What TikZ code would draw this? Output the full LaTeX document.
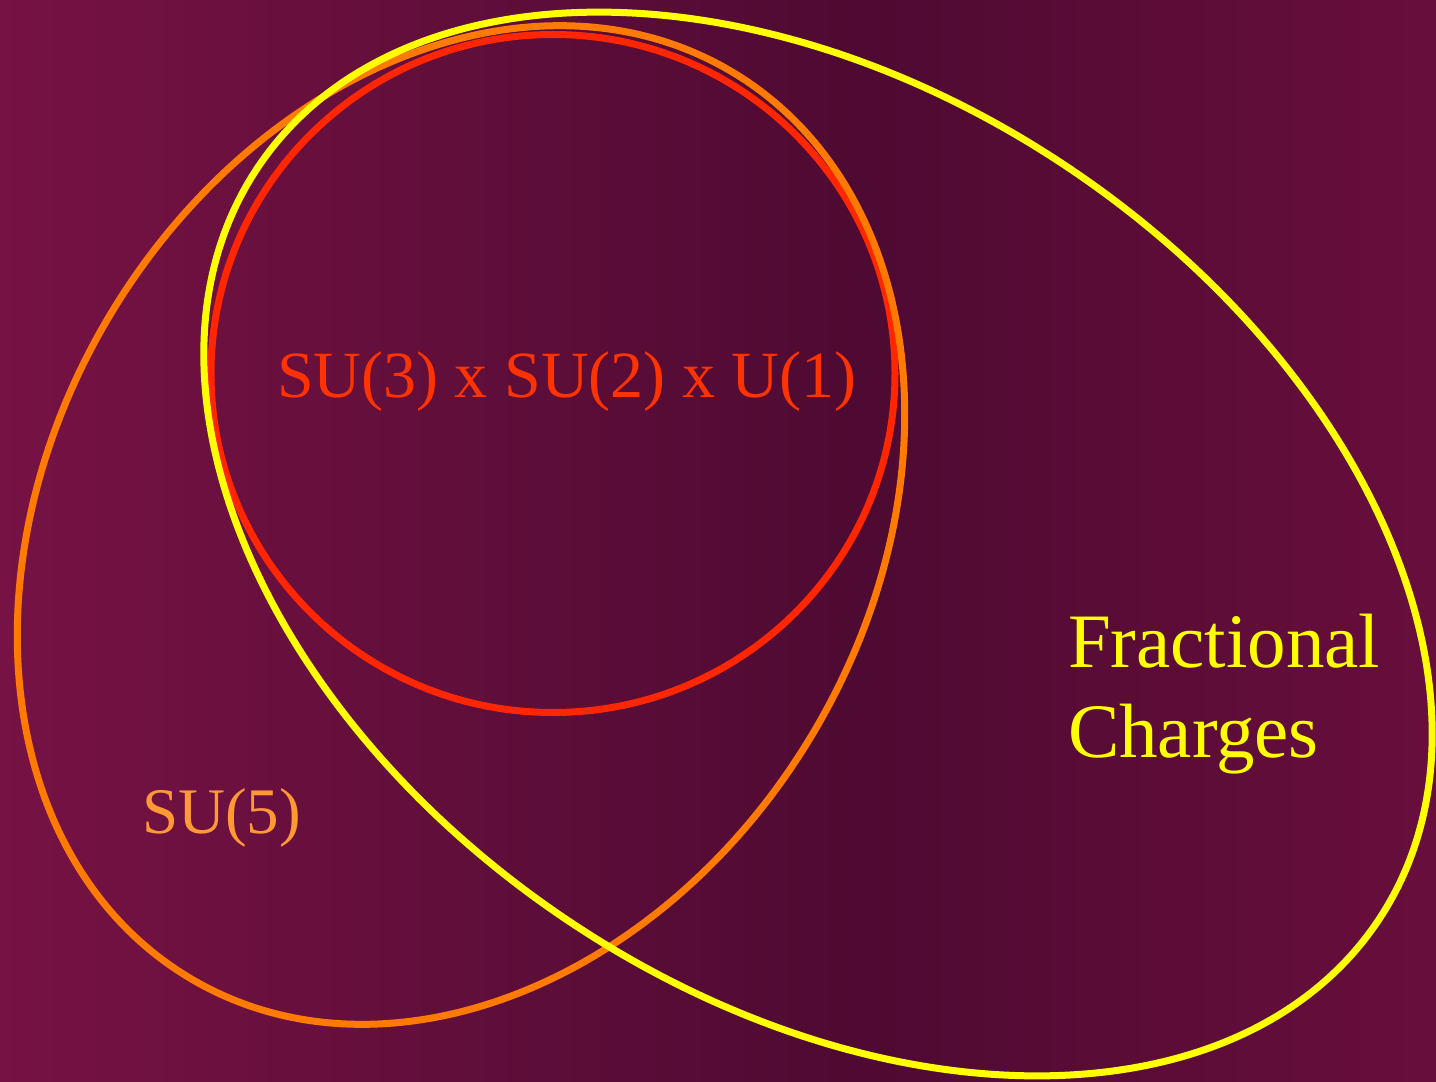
\documentclass[tikz,border=0pt]{standalone}
\usepackage{fontspec}
\setmainfont{Liberation Serif}
\definecolor{bgleft}{RGB}{118,18,68}
\definecolor{bgmid}{RGB}{78,10,50}
\definecolor{bgright}{RGB}{104,14,60}
\definecolor{redc}{RGB}{255,38,0}
\definecolor{orangec}{RGB}{255,122,0}
\definecolor{yellowc}{RGB}{255,255,0}
\definecolor{redtext}{RGB}{255,51,0}
\definecolor{su5text}{RGB}{255,153,51}
\pgfdeclarehorizontalshading{bgshade}{100bp}{color(0bp)=(bgleft); color(25bp)=(bgleft); color(55bp)=(bgmid); color(75bp)=(bgright); color(100bp)=(bgright)}
\tikzset{
  ring/.style={line width=7pt},
  lbl/.style={anchor=base west, inner sep=0pt, outer sep=0pt}
}
\begin{document}
\begin{tikzpicture}[x=1pt,y=-1pt]
\useasboundingbox (0,0) rectangle (1436,1082);
\shade[shading=bgshade] (0,0) rectangle (1436,1082);
% red circle
\draw[ring, redc] (553,373.5) ellipse [x radius=342, y radius=339];
% orange egg
\draw[ring, orangec, rotate around={59:(461,525)}] (461,525) ellipse [x radius=528, y radius=409];
% yellow egg
\draw[ring, yellowc, rotate around={-34:(818,544)}] (818,544) ellipse [x radius=675, y radius=452];
% labels
\node[lbl, text=redtext, font=\fontsize{66}{79}\selectfont] (sm) at (277,397) {SU(3) x SU(2) x U(1)};
\node[lbl, text=su5text, font=\fontsize{65}{78}\selectfont] (su5) at (142,833) {SU(5)};
\node[lbl, text=yellowc, font=\fontsize{77}{90}\selectfont] (frac) at (1068,667) {Fractional};
\node[lbl, text=yellowc, font=\fontsize{77}{90}\selectfont] (chg) at (1068,757) {Charges};
\end{tikzpicture}
\end{document}
